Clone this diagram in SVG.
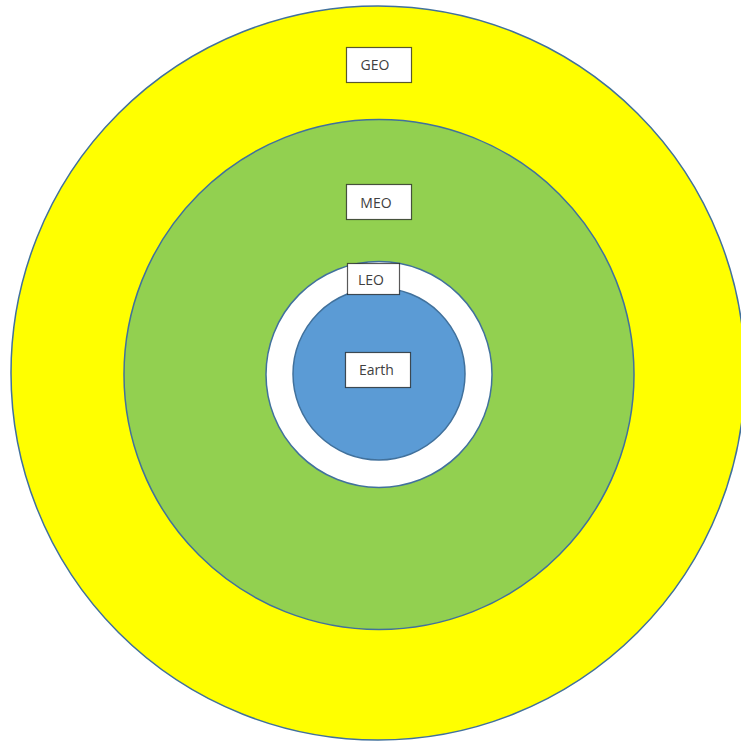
<svg xmlns="http://www.w3.org/2000/svg" width="741" height="744" viewBox="0 0 741 744">
<style>
.ring{stroke:#41719c;stroke-width:1.5}
.box{fill:#fff;stroke:#000;stroke-opacity:0.65;stroke-width:1.2}
.lbl{font-family:"Open Sans","Liberation Sans",sans-serif;font-size:14px;fill:#404040;text-anchor:middle}
</style>
<rect width="741" height="744" fill="#fff"/>
<g id="geo">
<circle class="ring" cx="378" cy="373" r="367" fill="#ffff00"/>
</g>
<g id="meo">
<circle class="ring" cx="379" cy="374.5" r="255" fill="#92d050"/>
</g>
<g id="leo">
<circle class="ring" cx="379" cy="374.5" r="113" fill="#ffffff"/>
</g>
<g id="earth">
<circle class="ring" cx="379" cy="374" r="86" fill="#5b9bd5"/>
</g>
<g id="geo-label">
<rect class="box" x="346.5" y="47.5" width="65" height="35"/>
<text class="lbl" x="375" y="69.5">GEO</text>
</g>
<g id="meo-label">
<rect class="box" x="346.5" y="184.5" width="65" height="35"/>
<text class="lbl" x="376" y="208">MEO</text>
</g>
<g id="leo-label">
<rect class="box" x="347.5" y="263.5" width="52" height="31"/>
<text class="lbl" x="371" y="285">LEO</text>
</g>
<g id="earth-label">
<rect class="box" x="345.5" y="352.5" width="65" height="35"/>
<text class="lbl" x="376.5" y="375">Earth</text>
</g>
<g id="connectors"/>
</svg>
